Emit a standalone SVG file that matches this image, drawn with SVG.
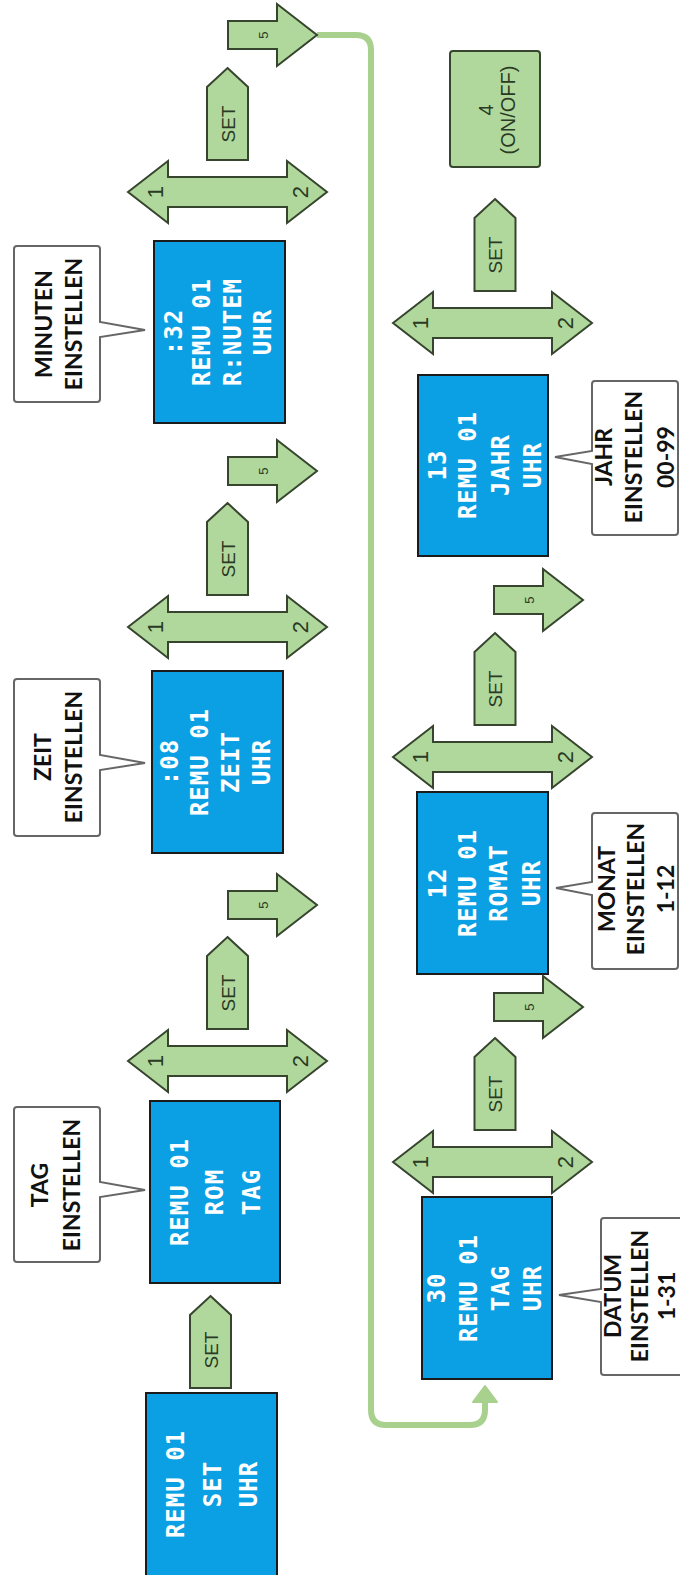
<svg xmlns="http://www.w3.org/2000/svg" width="680" height="1575" viewBox="0 0 680 1575">
<style>
.arr{fill:#b0d89c;stroke:#37452f;stroke-width:2;stroke-linejoin:miter}
.lcd{fill:#0b9fe3;stroke:#1b1b1b;stroke-width:2}
.lt{font-family:"DejaVu Sans Mono",monospace;font-weight:bold;font-size:24px;fill:#ffffff;letter-spacing:1px;text-anchor:middle}
.co{fill:#ffffff;stroke:#666666;stroke-width:2;stroke-linejoin:miter}
.ct{font-family:Lato,"Liberation Sans",sans-serif;font-weight:bold;font-size:23px;fill:#111111;text-anchor:middle}
.al{font-family:"Liberation Sans",Arial,sans-serif;fill:#2a3a24;text-anchor:middle}
.s18{font-size:19px}
.s20{font-size:22px}
.s13{font-size:13px}
.so{font-size:20px}
.conn{fill:none;stroke:#a9d18e;stroke-width:6;stroke-linejoin:round}
</style>
<defs>
<polygon id="dbl" points="-99.5,0 -59.5,-31 -59.5,-15 59.5,-15 59.5,-31 99.5,0 59.5,31 59.5,15 -59.5,15 -59.5,31"/>
<polygon id="setA" points="0,0 20.5,19 20.5,92 -20.5,92 -20.5,19"/>
<polygon id="five" points="0,-14 49,-14 49,-31 89,0 49,31 49,14 0,14"/>
<marker id="ah" markerUnits="userSpaceOnUse" markerWidth="20" markerHeight="26" refX="1" refY="12" orient="auto" viewBox="-2 -1 20 26">
<path d="M0,0 L16,12 L0,24 Z" fill="#a9d18e" stroke="#a9d18e" stroke-width="2" stroke-linejoin="round"/>
</marker>
</defs>
<rect x="0" y="0" width="680" height="1575" fill="#ffffff"/>

<g id="connectors">
<path class="conn" d="M317,35 H356 Q371,35 371,50 V1410 Q371,1425 386,1425 H470 Q485,1425 485,1410 V1401" marker-end="url(#ah)"/>
</g>

<g id="screen-set">
<rect class="lcd" x="146" y="1393" width="131" height="190"/>
<text class="lt" x="184" y="1484" transform="rotate(-90 184 1484)">REMU 01</text>
<text class="lt" x="221" y="1484" transform="rotate(-90 221 1484)">SET</text>
<text class="lt" x="257" y="1484" transform="rotate(-90 257 1484)">UHR</text>
</g>

<g id="screen-tag">
<rect class="lcd" x="150" y="1101" width="130" height="182"/>
<text class="lt" x="188" y="1192" transform="rotate(-90 188 1192)">REMU 01</text>
<text class="lt" x="223" y="1192" transform="rotate(-90 223 1192)">ROM</text>
<text class="lt" x="260" y="1192" transform="rotate(-90 260 1192)">TAG</text>
</g>

<g id="screen-zeit">
<rect class="lcd" x="152" y="671" width="131" height="182"/>
<text class="lt" x="178" y="762" transform="rotate(-90 178 762)">:08</text>
<text class="lt" x="208" y="762" transform="rotate(-90 208 762)">REMU 01</text>
<text class="lt" x="239" y="762" transform="rotate(-90 239 762)">ZEIT</text>
<text class="lt" x="270" y="762" transform="rotate(-90 270 762)">UHR</text>
</g>

<g id="screen-minuten">
<rect class="lcd" x="154" y="241" width="131" height="182"/>
<text class="lt" x="182" y="332" transform="rotate(-90 182 332)">:32</text>
<text class="lt" x="210" y="332" transform="rotate(-90 210 332)">REMU 01</text>
<text class="lt" x="241" y="332" transform="rotate(-90 241 332)">R:NUTEM</text>
<text class="lt" x="271" y="332" transform="rotate(-90 271 332)">UHR</text>
</g>

<g id="screen-datum">
<rect class="lcd" x="422" y="1197" width="130" height="182"/>
<text class="lt" x="445" y="1288" transform="rotate(-90 445 1288)">30</text>
<text class="lt" x="477" y="1288" transform="rotate(-90 477 1288)">REMU 01</text>
<text class="lt" x="509" y="1288" transform="rotate(-90 509 1288)">TAG</text>
<text class="lt" x="541" y="1288" transform="rotate(-90 541 1288)">UHR</text>
</g>

<g id="screen-monat">
<rect class="lcd" x="417" y="792" width="131" height="182"/>
<text class="lt" x="446" y="883" transform="rotate(-90 446 883)">12</text>
<text class="lt" x="476" y="883" transform="rotate(-90 476 883)">REMU 01</text>
<text class="lt" x="507" y="883" transform="rotate(-90 507 883)">ROMAT</text>
<text class="lt" x="540" y="883" transform="rotate(-90 540 883)">UHR</text>
</g>

<g id="screen-jahr">
<rect class="lcd" x="418" y="375" width="130" height="181"/>
<text class="lt" x="446" y="465" transform="rotate(-90 446 465)">13</text>
<text class="lt" x="476" y="465" transform="rotate(-90 476 465)">REMU 01</text>
<text class="lt" x="509" y="465" transform="rotate(-90 509 465)">JAHR</text>
<text class="lt" x="541" y="465" transform="rotate(-90 541 465)">UHR</text>
</g>

<g id="callout-tag">
<path class="co" d="M17,1107 H97 Q100,1107 100,1110 V1182 L145,1190 L100,1197 V1259 Q100,1262 97,1262 H17 Q14,1262 14,1259 V1110 Q14,1107 17,1107 Z"/>
<text class="ct" x="48" y="1185" transform="rotate(-90 48 1185)">TAG</text>
<text class="ct" x="80" y="1185" transform="rotate(-90 80 1185)">EINSTELLEN</text>
</g>

<g id="callout-zeit">
<path class="co" d="M17,679 H97 Q100,679 100,682 V755 L145,763 L100,770 V833 Q100,836 97,836 H17 Q14,836 14,833 V682 Q14,679 17,679 Z"/>
<text class="ct" x="51" y="757" transform="rotate(-90 51 757)">ZEIT</text>
<text class="ct" x="82" y="757" transform="rotate(-90 82 757)">EINSTELLEN</text>
</g>

<g id="callout-minuten">
<path class="co" d="M17,246 H97 Q100,246 100,249 V322 L145,330 L100,337 V399 Q100,402 97,402 H17 Q14,402 14,399 V249 Q14,246 17,246 Z"/>
<text class="ct" x="52" y="324" transform="rotate(-90 52 324)">MINUTEN</text>
<text class="ct" x="82" y="324" transform="rotate(-90 82 324)">EINSTELLEN</text>
</g>

<g id="callout-datum">
<path class="co" d="M604,1218 H692 Q695,1218 695,1221 V1372 Q695,1375 692,1375 H604 Q601,1375 601,1372 V1302 L559,1295 L601,1289 V1221 Q601,1218 604,1218 Z"/>
<text class="ct" x="621" y="1296" transform="rotate(-90 621 1296)">DATUM</text>
<text class="ct" x="648" y="1296" transform="rotate(-90 648 1296)">EINSTELLEN</text>
<text class="ct" x="675" y="1296" transform="rotate(-90 675 1296)">1-31</text>
</g>

<g id="callout-monat">
<path class="co" d="M595,813 H675 Q678,813 678,816 V966 Q678,969 675,969 H595 Q592,969 592,966 V895 L556,888 L592,882 V816 Q592,813 595,813 Z"/>
<text class="ct" x="615" y="889" transform="rotate(-90 615 889)">MONAT</text>
<text class="ct" x="644" y="889" transform="rotate(-90 644 889)">EINSTELLEN</text>
<text class="ct" x="674" y="889" transform="rotate(-90 674 889)">1-12</text>
</g>

<g id="callout-jahr">
<path class="co" d="M595,381 H675 Q678,381 678,384 V532 Q678,535 675,535 H595 Q592,535 592,532 V464 L555,457 L592,451 V384 Q592,381 595,381 Z"/>
<text class="ct" x="612" y="457" transform="rotate(-90 612 457)">JAHR</text>
<text class="ct" x="642" y="457" transform="rotate(-90 642 457)">EINSTELLEN</text>
<text class="ct" x="674" y="457" transform="rotate(-90 674 457)">00-99</text>
</g>

<g id="key-onoff">
<rect class="arr" x="450" y="51" width="90" height="116" rx="3"/>
<text class="al so" x="493" y="110" transform="rotate(-90 493 110)">4</text>
<text class="al so" x="515" y="110" transform="rotate(-90 515 110)">(ON/OFF)</text>
</g>

<g id="keys-updown">
<use href="#dbl" class="arr" x="227.5" y="192"/>
<text class="al s20" x="163" y="192" transform="rotate(-90 163 192)">1</text>
<text class="al s20" x="308" y="192" transform="rotate(-90 308 192)">2</text>
<use href="#dbl" class="arr" x="227.5" y="627"/>
<text class="al s20" x="163" y="627" transform="rotate(-90 163 627)">1</text>
<text class="al s20" x="308" y="627" transform="rotate(-90 308 627)">2</text>
<use href="#dbl" class="arr" x="227.5" y="1061"/>
<text class="al s20" x="163" y="1061" transform="rotate(-90 163 1061)">1</text>
<text class="al s20" x="308" y="1061" transform="rotate(-90 308 1061)">2</text>
<use href="#dbl" class="arr" x="492.5" y="323"/>
<text class="al s20" x="428" y="323" transform="rotate(-90 428 323)">1</text>
<text class="al s20" x="573" y="323" transform="rotate(-90 573 323)">2</text>
<use href="#dbl" class="arr" x="492.5" y="757"/>
<text class="al s20" x="428" y="757" transform="rotate(-90 428 757)">1</text>
<text class="al s20" x="573" y="757" transform="rotate(-90 573 757)">2</text>
<use href="#dbl" class="arr" x="492.5" y="1162"/>
<text class="al s20" x="428" y="1162" transform="rotate(-90 428 1162)">1</text>
<text class="al s20" x="573" y="1162" transform="rotate(-90 573 1162)">2</text>
</g>

<g id="keys-set">
<use href="#setA" class="arr" x="210.5" y="1296"/>
<text class="al s18" x="217.5" y="1350" transform="rotate(-90 217.5 1350)">SET</text>
<use href="#setA" class="arr" x="227.5" y="937"/>
<text class="al s18" x="234.5" y="993" transform="rotate(-90 234.5 993)">SET</text>
<use href="#setA" class="arr" x="227.5" y="503"/>
<text class="al s18" x="234.5" y="559" transform="rotate(-90 234.5 559)">SET</text>
<use href="#setA" class="arr" x="227.5" y="68"/>
<text class="al s18" x="234.5" y="124" transform="rotate(-90 234.5 124)">SET</text>
<use href="#setA" class="arr" x="495" y="1038"/>
<text class="al s18" x="502" y="1094" transform="rotate(-90 502 1094)">SET</text>
<use href="#setA" class="arr" x="495" y="633"/>
<text class="al s18" x="502" y="689" transform="rotate(-90 502 689)">SET</text>
<use href="#setA" class="arr" x="495" y="199"/>
<text class="al s18" x="502" y="255" transform="rotate(-90 502 255)">SET</text>
</g>

<g id="keys-5">
<use href="#five" class="arr" x="228" y="905"/>
<text class="al s13" x="268" y="905" transform="rotate(-90 268 905)">5</text>
<use href="#five" class="arr" x="228" y="471"/>
<text class="al s13" x="268" y="471" transform="rotate(-90 268 471)">5</text>
<use href="#five" class="arr" x="228" y="35"/>
<text class="al s13" x="268" y="35" transform="rotate(-90 268 35)">5</text>
<use href="#five" class="arr" x="494" y="1007"/>
<text class="al s13" x="534" y="1007" transform="rotate(-90 534 1007)">5</text>
<use href="#five" class="arr" x="494" y="600"/>
<text class="al s13" x="534" y="600" transform="rotate(-90 534 600)">5</text>
</g>
</svg>
